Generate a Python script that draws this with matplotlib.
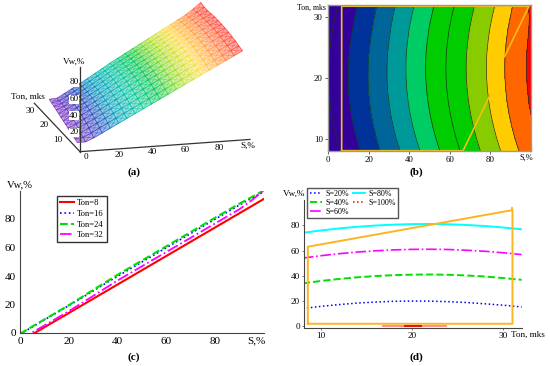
import numpy as np
import matplotlib
matplotlib.use("Agg")
import matplotlib.pyplot as plt
from matplotlib.collections import LineCollection
from matplotlib.colors import LinearSegmentedColormap

plt.rcParams["font.family"] = ["Liberation Serif", "DejaVu Serif"]
plt.rcParams["font.size"] = 6.6

W, H = 550, 366

s_vals = np.arange(0, 101, 5)
ton_vals = np.arange(8, 33, 2)
vw_table = np.array([
    [-6, -1, 4, 9, 14, 19, 24, 29, 34, 39, 44, 49, 54, 59, 64, 69, 74, 79, 84, 89, 94],
    [-4.2, 0.8, 5.8, 10.8, 15.8, 20.8, 25.9, 30.9, 35.9, 40.9, 45.9, 50.9, 55.9, 60.9, 65.9, 70.9, 75.9, 80.9, 85.9, 90.9, 95.5],
    [-2.8, 2.2, 7.2, 12.2, 17.2, 22.3, 27.4, 32.4, 37.5, 42.5, 47.5, 52.5, 57.5, 62.5, 67.5, 72.5, 77.5, 82.5, 87.5, 92.5, 97],
    [-1.6, 3.4, 8.4, 13.4, 18.4, 23.5, 28.6, 33.7, 38.8, 43.8, 48.8, 53.8, 58.8, 63.8, 68.8, 73.8, 78.8, 83.8, 88.8, 93.6, 98],
    [-0.8, 4.2, 9.2, 14.2, 19.2, 24.3, 29.5, 34.7, 39.8, 44.8, 49.8, 54.8, 59.8, 64.8, 69.8, 74.8, 79.8, 84.8, 89.8, 94.6, 99],
    [-0.2, 4.8, 9.8, 14.8, 19.8, 25, 30.2, 35.4, 40.5, 45.5, 50.5, 55.5, 60.5, 65.5, 70.5, 75.5, 80.5, 85.5, 90.4, 95, 99.5],
    [0, 5, 10, 15, 20, 25.2, 30.5, 35.7, 40.9, 45.9, 50.9, 55.9, 60.9, 65.9, 70.9, 75.9, 80.9, 85.9, 90.8, 95.4, 100],
    [-0.1, 4.9, 9.9, 14.9, 19.9, 25.1, 30.5, 35.8, 41, 46, 51, 56, 61, 66, 71, 76, 81, 86, 90.9, 95.5, 100],
    [-0.5, 4.5, 9.5, 14.5, 19.5, 24.8, 30.2, 35.5, 40.8, 45.8, 50.8, 55.8, 60.8, 65.8, 70.8, 75.8, 80.8, 85.8, 90.7, 95.3, 100],
    [-1.2, 3.8, 8.8, 13.8, 18.8, 24.1, 29.5, 34.9, 40.2, 45.2, 50.2, 55.2, 60.2, 65.2, 70.2, 75.2, 80.2, 85.2, 90.2, 95, 99.4],
    [-2.2, 2.8, 7.8, 12.8, 17.8, 23.1, 28.6, 34, 39.4, 44.4, 49.4, 54.4, 59.4, 64.4, 69.4, 74.4, 79.4, 84.4, 89.4, 94.4, 99],
    [-3.3, 1.7, 6.7, 11.7, 16.7, 22, 27.5, 32.9, 38.2, 43.2, 48.2, 53.2, 58.2, 63.2, 68.2, 73.2, 78.2, 83.2, 88.2, 93.4, 98.8],
    [-4.7, 0.3, 5.3, 10.3, 15.3, 20.6, 26, 31.4, 36.8, 41.8, 46.8, 51.8, 56.8, 61.8, 66.8, 71.8, 76.8, 81.8, 86.8, 93, 100],
])

contour_levels = [-10, 0, 9.8, 19.6, 29.4, 39.2, 49, 59, 69, 79, 88, 98, 101]
contour_colors = ["#33009a", "#33009a", "#003399", "#006699", "#009999", "#00cc66",
                  "#00cc00", "#00cc00", "#88cc00", "#ffcc00", "#ff6600", "#ff0000"]

region_s = [6.6, 66.5, 80]
region_ton = [8, 8, 17.3]
region2_s = [87, 99, 6.6, 6.6]
region2_ton = [23.5, 31.8, 31.8, 8]

region_d_ton = [8.55, 8.55, 31, 31, 8.55]
region_d_vw = [2, 63, 92, 2, 2]
region_d_stub_ton = [31, 31]
region_d_stub_vw = [92, 94]

c_rows = [0, 4, 8, 12]
c_labels = ["Ton=8", "Ton=16", "Ton=24", "Ton=32"]
d_cols = [4, 8, 12, 16]
d_labels = ["S=20%", "S=40%", "S=60%", "S=80%"]
zero_pale = [16.8, 23.7]
zero_dark = [19.2, 21]

ORANGE_B = "#f2c010"
ORANGE_D = "#fbb520"
AX_C = "#444444"

fig = plt.figure(figsize=(W / 100, H / 100), dpi=100, facecolor="white")


def px_axes(l, t, r, b):
    return fig.add_axes([l / W, 1 - b / H, (r - l) / W, (b - t) / H])


def surf_xy(s, ton, v):
    u = ton - 8
    x = 232 + 4.95 * s - u * (3.5 + 0.017 * s)
    y = 427.4 - 0.4 * s - 5.4 * u - 2.5 * v
    return x / 3, y / 3


def axis_xy(s, ton, v):
    x = 240 + 5.0 * s - 4.15 * ton
    y = 455 - 0.36 * s - 4.4 * ton - 2.5 * v
    return x / 3, y / 3


# (a) wire surface
ax = px_axes(0, 0, 275, 183)
ax.set_xlim(0, 275)
ax.set_ylim(183, 0)
ax.axis("off")
rainbow = LinearSegmentedColormap.from_list(
    "wire", ["#7a30c0", "#3040c0", "#00a0c0", "#00c8a0", "#00c850", "#a0e020",
             "#ffe040", "#ff9040", "#ff3030"])
S, T = np.meshgrid(s_vals, ton_vals)
X, Y = surf_xy(S, T, np.maximum(vw_table, 0))
ax.pcolormesh(X, Y, S, shading="gouraud", cmap=rainbow, alpha=0.42, linewidth=0)
for i in range(len(s_vals)):
    ax.plot(X[:, i], Y[:, i], color=rainbow(s_vals[i] / 100), lw=0.4)
segs = []
seg_c = []
for j in range(len(ton_vals)):
    for i in range(len(s_vals) - 1):
        segs.append([(X[j, i], Y[j, i]), (X[j, i + 1], Y[j, i + 1])])
        seg_c.append(rainbow(s_vals[i] / 100))
ax.add_collection(LineCollection(segs, colors=seg_c, linewidths=0.4))

for p0, p1 in [((0, 0, 0), (102, 0, 0)), ((0, 0, 0), (0, 33, 0)), ((0, 0, 0), (0, 0, 102))]:
    a, b = axis_xy(*p0), axis_xy(*p1)
    ax.plot([a[0], b[0]], [a[1], b[1]], color="#333333", lw=0.9)
for sv in [0, 20, 40, 60, 80]:
    x, y = axis_xy(sv, 0, 0)
    ax.text(x + 5.5, y + 5.5, str(sv), ha="center", va="center")
for tv in [10, 20, 30]:
    x, y = axis_xy(0, tv, 0)
    ax.text(x - 8, y + 3, str(tv), ha="center", va="center")
for vv in [20, 40, 60, 80]:
    x, y = axis_xy(0, 0, vv)
    ax.text(x - 1.5, y - 2.5, str(vv), ha="right", va="center",
            bbox=dict(fc="white", ec="none", pad=0.4))
ax.text(74, 62, "Vw,%", ha="center", va="center")
ax.text(28, 97, "Ton, mks", ha="center", va="center")
ax.text(248, 146, "S,%", ha="center", va="center")

# (b) contour map
ax = px_axes(328.3, 5, 531, 150.7)
ax.contourf(s_vals, ton_vals, vw_table, levels=contour_levels, colors=contour_colors)
ax.contour(s_vals, ton_vals, vw_table, levels=contour_levels[1:-1],
           colors="#1c3320", linewidths=0.5)
ax.plot(region_s, region_ton, color=ORANGE_B, lw=1.2)
ax.plot(region2_s, region2_ton, color=ORANGE_B, lw=1.2)
ax.set_xlim(0, 100)
ax.set_ylim(8, 32)
ax.set_xticks([0, 20, 40, 60, 80])
ax.set_yticks([10, 20, 30])
ax.tick_params(length=2, width=0.6, pad=2, color=AX_C, labelsize=6.3)
for sp in ax.spines.values():
    sp.set_color("#999999")
    sp.set_linewidth(1.0)
ax.text(-1, 31.5, "Ton, mks", ha="right", va="center", clip_on=False, fontsize=5.6)
ax.text(97.5, 6.8, "S,%", ha="center", va="center", clip_on=False, fontsize=6)

# (c) Vw against S
ax = px_axes(20, 190.5, 263.7, 333)
c_styles = [("red", "-", 1.5), ("blue", ":", 1.2), ("#00e000", "--", 1.5), ("#ff00ff", "-.", 1.3)]
for r, lab, (col, ls, lw) in zip(c_rows, c_labels, c_styles):
    ax.plot(s_vals, vw_table[r], color=col, ls=ls, lw=lw, label=lab)
ax.set_xlim(0, 100)
ax.set_ylim(0, 100)
ax.set_xticks([0, 20, 40, 60, 80])
ax.set_yticks([0, 20, 40, 60, 80])
ax.tick_params(length=0, pad=3, labelsize=8)
for sp in ["top", "right"]:
    ax.spines[sp].set_visible(False)
for sp in ["left", "bottom"]:
    ax.spines[sp].set_color(AX_C)
    ax.spines[sp].set_linewidth(0.8)
ax.text(-5.5, 104, "Vw,%", ha="left", va="center", clip_on=False, fontsize=7.7)
ax.text(97, -5.5, "S,%", ha="center", va="center", clip_on=False, fontsize=8)
ax.legend(loc="upper left", bbox_to_anchor=(57 / W, 1 - 196 / H), bbox_transform=fig.transFigure,
          borderaxespad=0, fancybox=False, framealpha=1, edgecolor="#333333", fontsize=6.2,
          handlelength=1.6, labelspacing=0.32, borderpad=0.35, handletextpad=0.4)

# (d) Vw against Ton
ax = px_axes(304, 200, 521.6, 328)
d_styles = [("blue", ":", 1.1), ("#00e000", "--", 1.4), ("#ff00ff", "-.", 1.2), ("#00ffff", "-", 1.4)]
for c, lab, (col, ls, lw) in zip(d_cols, d_labels, d_styles):
    ax.plot(ton_vals, vw_table[:, c], color=col, ls=ls, lw=lw, label=lab)
ax.plot([], [], color="red", ls=":", lw=1.1, label="S=100%")
ax.plot(zero_pale, [0, 0], color="#ff9090", lw=1.5, clip_on=False)
ax.plot(zero_dark, [0, 0], color="#ee1010", lw=1.5, clip_on=False)
ax.plot(region_d_ton, region_d_vw, color=ORANGE_D, lw=1.4, clip_on=False)
ax.plot(region_d_stub_ton, region_d_stub_vw, color=ORANGE_D, lw=1.4, clip_on=False)
ax.set_xlim(8.13, 32)
ax.set_ylim(-1.35, 100)
ax.set_xticks([10, 20, 30])
ax.set_yticks([0, 20, 40, 60, 80])
ax.tick_params(length=1.5, width=0.5, pad=1.5, color=AX_C)
for sp in ["top", "right"]:
    ax.spines[sp].set_visible(False)
for sp in ["left", "bottom"]:
    ax.spines[sp].set_color(AX_C)
    ax.spines[sp].set_linewidth(0.8)
ax.text(7.0, 104.7, "Vw,%", ha="center", va="center", clip_on=False)
ax.text(32.65, -6.7, "Ton, mks", ha="center", va="center", clip_on=False)
ax.legend(loc="upper left", bbox_to_anchor=(307.3 / W, 1 - 187.7 / H), bbox_transform=fig.transFigure,
          ncol=2, borderaxespad=0, fancybox=False, framealpha=1, edgecolor="#555555", fontsize=5.8,
          handlelength=1.5, labelspacing=0.12, borderpad=0.3, handletextpad=0.4, columnspacing=0.6)

for lab, (x, y) in {"a": (134, 172), "b": (416, 172), "c": (134, 357), "d": (416, 357)}.items():
    fig.text(x / W, 1 - y / H, f"({lab})", ha="center", va="center", fontsize=8, fontweight="bold")

fig.savefig("out.png", dpi=100)
